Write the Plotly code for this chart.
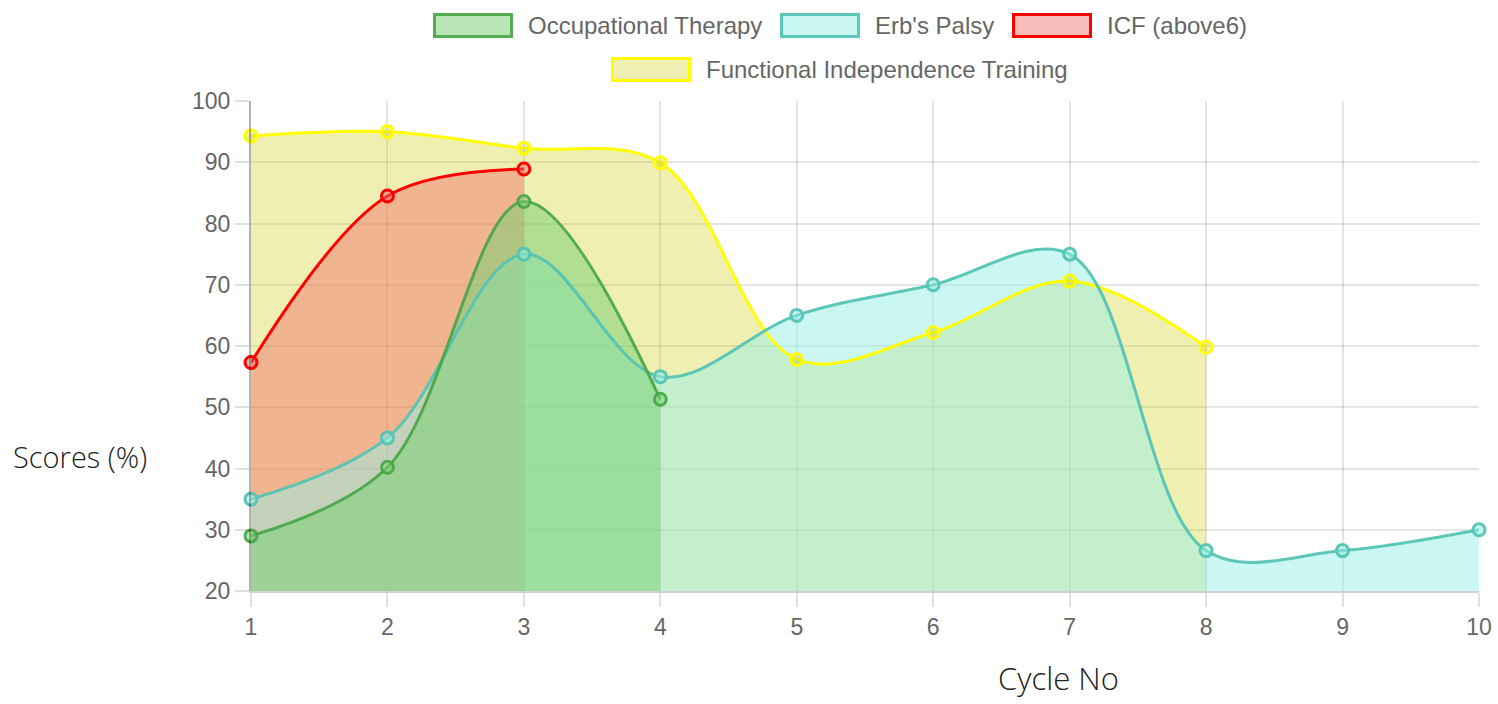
import plotly.graph_objects as go

# ---------------- data ----------------
cycles = [1, 2, 3, 4, 5, 6, 7, 8, 9, 10]

series_names = ["Occupational Therapy", "Erb's Palsy", "ICF (above6)", "Functional Independence Training"]

ot_values = [29, 40.2, 83.6, 51.3]
erb_values = [35, 45, 75, 55, 65, 70, 75, 26.6, 26.6, 30]
icf_values = [57.3, 84.5, 88.9]
fit_values = [94.3, 95, 92.3, 89.9, 57.8, 62.2, 70.6, 59.8]

y_ticks = [20, 30, 40, 50, 60, 70, 80, 90, 100]

# ---------------- styles ----------------
line_colors = ["rgba(70,165,68,0.9)", "rgba(84,196,180,0.95)", "#ff0000", "#ffff00"]
fill_colors = ["rgba(121,208,115,0.53)", "rgba(152,240,230,0.5)", "rgba(240,108,102,0.45)", "rgba(204,202,0,0.3)"]
values = [ot_values, erb_values, icf_values, fit_values]

fig = go.Figure()

# area fills first (bottom-most first; Chart.js draws first dataset on top)
for i in [3, 2, 1, 0]:
    vals = values[i]
    fig.add_trace(go.Scatter(
        x=cycles[:len(vals)],
        y=vals,
        name=series_names[i],
        mode="lines",
        fill="tozeroy",
        fillcolor=fill_colors[i],
        line=dict(color="rgba(0,0,0,0)", width=0, shape="spline", smoothing=1.0),
        hoverinfo="skip",
        showlegend=False,
    ))

# lines and points above all fills
for i in [3, 2, 1, 0]:
    vals = values[i]
    fig.add_trace(go.Scatter(
        x=cycles[:len(vals)],
        y=vals,
        name=series_names[i],
        mode="lines+markers",
        line=dict(color=line_colors[i], width=3, shape="spline", smoothing=1.0),
        marker=dict(size=12, color=fill_colors[i], line=dict(color=line_colors[i], width=3)),
        cliponaxis=False,
        showlegend=False,
    ))

# plot area in pixels
W, H = 1498, 704
L, R, T, B = 251, 1479, 101, 591


def px(xp):
    return (xp - L) / (R - L)


def py(yp):
    return (B - yp) / (B - T)


# ---------------- manual Chart.js-style legend ----------------
legend_items = [
    (0, 433, 25.5),
    (1, 780, 25.5),
    (2, 1012, 25.5),
    (3, 611, 69.5),
]
shapes = []
annotations = []
for idx, bx, cy in legend_items:
    shapes.append(dict(
        type="rect", xref="paper", yref="paper",
        x0=px(bx + 1.5), x1=px(bx + 80 - 1.5),
        y0=py(cy - 11), y1=py(cy + 11),
        fillcolor=fill_colors[idx],
        line=dict(color=line_colors[idx], width=3),
        layer="above",
    ))
    annotations.append(dict(
        text=series_names[idx], xref="paper", yref="paper",
        x=px(bx + 93), y=py(cy), xanchor="left", yanchor="middle",
        showarrow=False,
        font=dict(family="Liberation Sans, Arial, sans-serif", size=24, color="#666"),
    ))

annotations.append(dict(
    text="Scores (%)", xref="paper", yref="paper", x=px(11), y=py(456),
    xanchor="left", yanchor="middle", showarrow=False,
    font=dict(family="Segoe UI Light, Open Sans, sans-serif", size=29, color="#222", weight=300),
))
annotations.append(dict(
    text="Cycle No", xref="paper", yref="paper", x=px(996), y=py(678),
    xanchor="left", yanchor="middle", showarrow=False,
    font=dict(family="Segoe UI Light, Open Sans, sans-serif", size=31, color="#222", weight=300),
))

tick_font = dict(family="Liberation Sans, Arial, sans-serif", size=23, color="#666")

fig.update_layout(
    width=W, height=H,
    margin=dict(l=L, r=W - R, t=T, b=H - B, pad=0, autoexpand=False),
    paper_bgcolor="white",
    plot_bgcolor="white",
    showlegend=False,
    shapes=shapes,
    annotations=annotations,
    xaxis=dict(
        range=[1, 10], tickmode="array", tickvals=cycles, ticktext=[str(c) for c in cycles],
        showgrid=True, gridcolor="rgba(0,0,0,0.1)", gridwidth=1.5,
        ticks="outside", ticklen=14, tickcolor="rgba(0,0,0,0.12)", tickwidth=1.5,
        showline=True, linecolor="rgba(0,0,0,0.18)", linewidth=2,
        zeroline=False, tickfont=tick_font, fixedrange=True, automargin=False,
    ),
    yaxis=dict(
        range=[20, 100], tickmode="array", tickvals=y_ticks, ticktext=[str(t) for t in y_ticks],
        showgrid=True, gridcolor="rgba(0,0,0,0.1)", gridwidth=1.5,
        ticks="outside", ticklen=14, tickcolor="rgba(0,0,0,0.12)", tickwidth=1.5,
        showline=True, linecolor="rgba(0,0,0,0.3)", linewidth=2,
        zeroline=False, tickfont=tick_font, fixedrange=True, automargin=False,
    ),
)

fig.write_html(
    "out.html",
    config={"displayModeBar": False},
    post_script="document.body.style.margin='0';document.body.style.padding='0';",
)
